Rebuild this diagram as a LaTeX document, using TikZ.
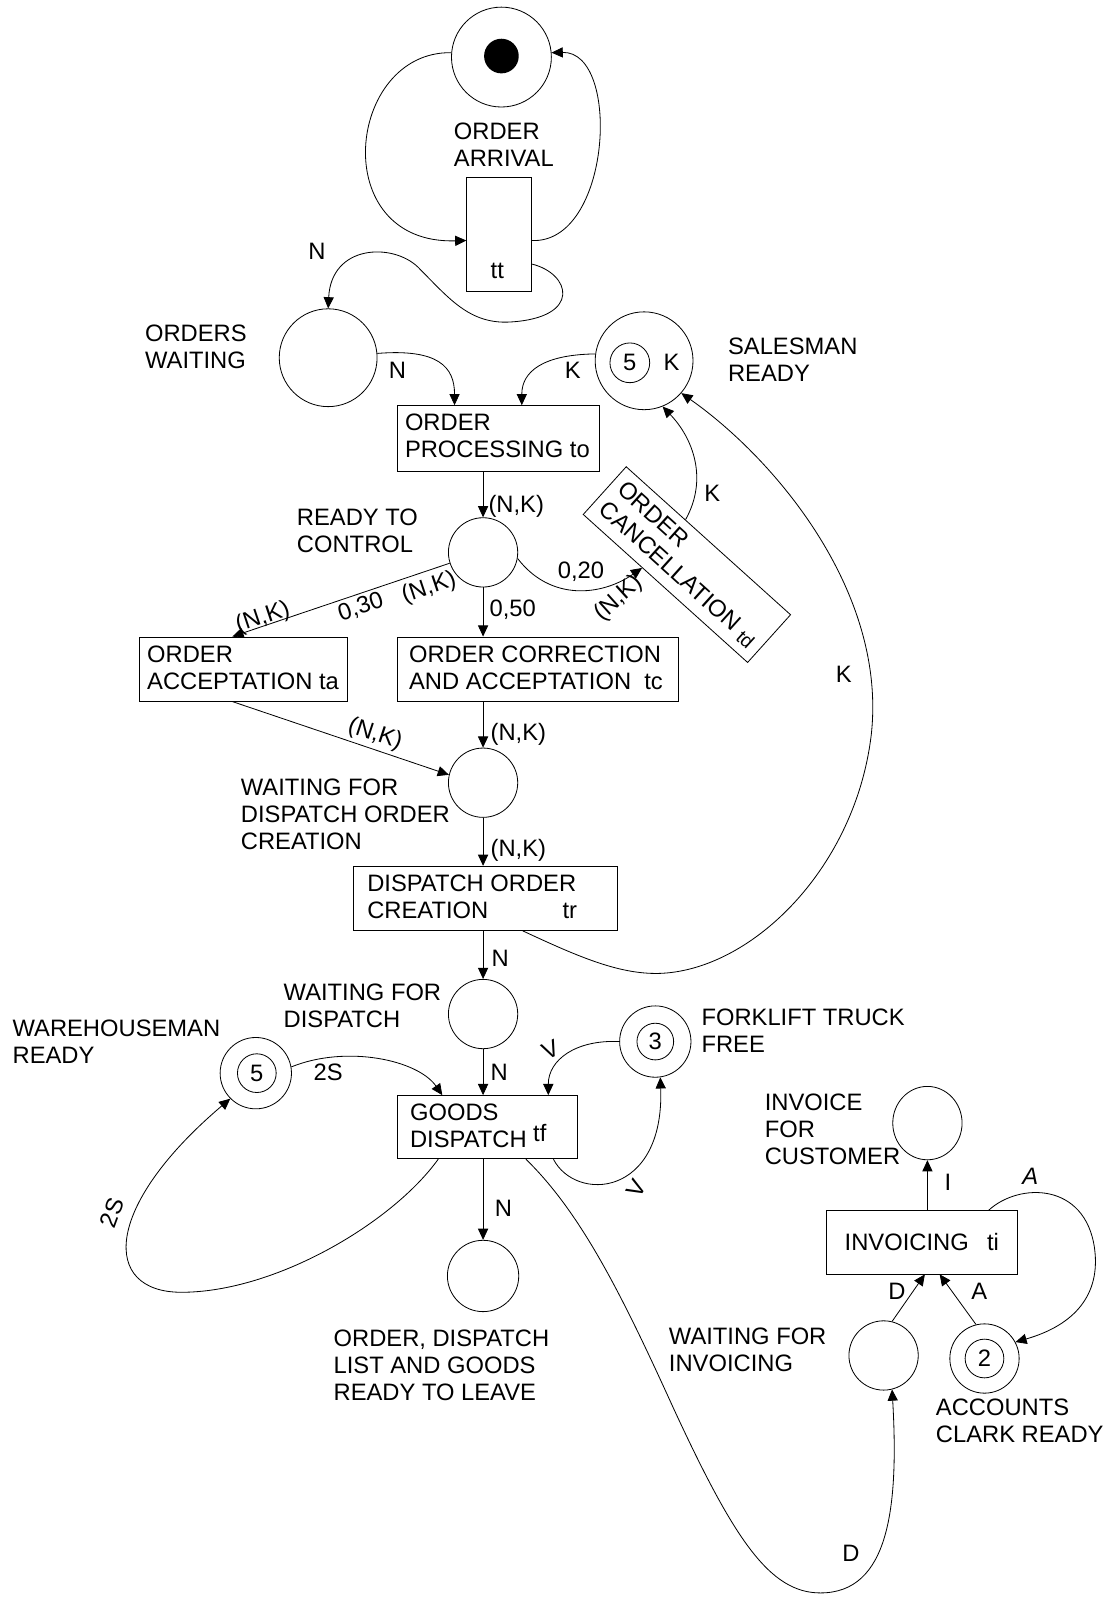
\documentclass[tikz,border=0pt]{standalone}
\usepackage{fontspec}
\setmainfont{Liberation Sans}
\usetikzlibrary{arrows.meta,calc,shapes.geometric}
\begin{document}
\begin{tikzpicture}[x=1pt,y=-1pt,line width=0.8pt,
  every node/.style={inner sep=0pt,font=\fontsize{23.3}{26.5}\selectfont},
  place/.style={draw,circle,minimum size=#1},
  oval/.style 2 args={draw,ellipse,minimum width=#1,minimum height=#2},
  trans/.style 2 args={draw,rectangle,minimum width=#1,minimum height=#2},
  txt/.style={anchor=north west,align=left},
  arr/.style={-{Triangle[length=11pt,width=10pt]}}]
\useasboundingbox (0,0) rectangle (1088,1568);

% ---------- order arrival ----------
\node[place=98] (arrival) at (492,56) {};
\node[circle,fill,minimum size=34] (token) at (492,55) {};
\node[txt] (arrivalL) at (445,120) {ORDER\\ARRIVAL};
\node[trans={63}{111}] (tt) at (489.5,230) {};
\node (ttL) at (488,266) {tt};
\draw[arr] (arrival.175) .. controls (340,50) and (320,240) .. ([yshift=-6pt]tt.west);
\draw[arr] ([yshift=-6pt]tt.east) .. controls (600,240) and (610,50) .. (arrival.5);

% ---------- orders waiting ----------
\node[place=96] (orders) at (322,351) {};
\node[txt] (ordersL) at (142,318) {ORDERS\\WAITING};
\draw[arr] ([yshift=-29pt]tt.east) .. controls (560,268) and (572,312) .. (500,316)
   .. controls (460,318) and (440,292) .. (410,262)
   .. controls (385,238) and (325,240) .. (orders.north);
\node (lN1) at (311,247) {N};

% ---------- order processing ----------
\node[trans={198}{65}] (proc) at (489,430.5) {};
\node[txt] (procL) at (397,406) {ORDER\\PROCESSING to};
\draw[arr] (orders.5) .. controls (430,342) and (446,360) .. ([xshift=-43pt]proc.north);
\node (lN2) at (390,363) {N};

% ---------- salesman ready ----------
\node[place=96] (sales) at (632,354) {};
\node[place=39] (salesIn) at (618,356) {5};
\node (salesK) at (659,356) {K};
\node[txt] (salesL) at (714,331) {SALESMAN\\READY};
\draw[arr] (sales.172) .. controls (532,348) and (512,365) .. ([xshift=23pt]proc.north);
\node (lK1) at (562,363) {K};

% ---------- ready to control ----------
\node[place=68] (ready) at (474,542) {};
\node[txt] (readyL) at (291,499) {READY TO\\CONTROL};
\draw[arr] (proc.south -| ready) -- (ready.north);
\node[anchor=west] (lNK1) at (479,497) {(N,K)};

% ---------- order acceptation ----------
\node[trans={204}{63}] (accept) at (239,656.5) {};
\node[txt] (acceptL) at (144,633) {ORDER\\ACCEPTATION ta};
\draw[arr] (ready.198) -- ([xshift=-11pt]accept.north);
\node[rotate=18.5] (lNK2) at (258,606) {(N,K)};
\node[rotate=18.5] (l030) at (354,596) {0,30};
\node[rotate=18.5] (lNK3) at (421,577) {(N,K)};

% ---------- order correction ----------
\node[trans={276}{63}] (correct) at (528,656.5) {};
\node[txt] (correctL) at (401,633) {ORDER CORRECTION\\AND ACCEPTATION\ \ tc};
\draw[arr] (ready.south) -- (correct.north -| ready);
\node[anchor=west] (l050) at (480,598) {0,50};

% ---------- order cancellation ----------
\node[trans={217}{63},rotate=-42,align=left] (cancel) at (674,554)
  {ORDER\\CANCELLATION \raisebox{-3pt}{\fontsize{19}{20}\selectfont td}};
\draw[arr] (ready.-10) .. controls (540,590) and (590,585) ..
  ($(cancel.south west)!0.36!(cancel.south east)$);
\node (l020) at (570,561) {0,20};
\node[rotate=42] (lNK4) at (607,587) {(N,K)};
\draw[arr] ($(cancel.north west)!0.36!(cancel.north east)$) .. controls (695,470) and (680,430) .. (sales.292);
\node (lK2) at (699,484) {K};

% ---------- waiting for dispatch order creation ----------
\node[place=68] (wait1) at (474,768) {};
\node[txt] (wait1L) at (236,764) {WAITING FOR\\DISPATCH ORDER\\CREATION};
\draw[arr] ([xshift=-11pt]accept.south) -- (wait1.167);
\node[rotate=-18.3] (lNK5) at (368,721) {(N,K)};
\draw[arr] (correct.south -| wait1) -- (wait1.north);
\node[anchor=west] (lNK6) at (481,721) {(N,K)};

% ---------- dispatch order creation ----------
\node[trans={259}{63}] (doc) at (476.5,881.5) {};
\node[txt] (docL) at (360,858) {DISPATCH ORDER\\CREATION\hspace{73pt}tr};
\draw[arr] (wait1.south) -- (doc.north -| wait1);
\node[anchor=west] (lNK7) at (481,834) {(N,K)};
\draw[arr] ([xshift=36.5pt]doc.south) .. controls (570,940) and (610,957) .. (650,955)
   .. controls (740,950) and (840,850) .. (855,720)
   .. controls (870,580) and (760,450) .. (sales.-41);
\node (lK3) at (828,662) {K};

% ---------- waiting for dispatch ----------
\node[place=68] (wait2) at (474,995) {};
\node[txt] (wait2L) at (278,965) {WAITING FOR\\DISPATCH};
\draw[arr] (doc.south -| wait2) -- (wait2.north);
\node[anchor=west] (lN3) at (482,940) {N};

% ---------- goods dispatch ----------
\node[trans={177}{62}] (goods) at (478.5,1106) {};
\node[txt] (goodsL) at (402,1083) {GOODS\\DISPATCH \raisebox{6pt}{tf}};
\draw[arr] (wait2.south) -- (goods.north -| wait2);
\node[anchor=west] (lN4) at (481,1052) {N};

% ---------- warehouseman ready ----------
\node[place=70] (wh) at (251,1053) {};
\node[place=38] (whIn) at (252,1053) {5};
\node[txt] (whL) at (12,1000) {WAREHOUSEMAN\\READY};
\draw[arr] (wh.10) .. controls (340,1025) and (410,1040) .. ([xshift=-44.5pt]goods.north);
\node (l2S1) at (322,1052) {2S};
\draw[arr] ([xshift=-48.5pt]goods.south) .. controls (385,1200) and (270,1268) .. (178,1268)
   .. controls (100,1268) and (100,1185) .. (wh.225);
\node[rotate=70] (l2S2) at (110,1190) {2S};

% ---------- forklift truck free ----------
\node[place=70] (fork) at (643,1022) {};
\node[place=36] (forkIn) at (643,1022) {3};
\node[txt] (forkL) at (688,990) {FORKLIFT TRUCK\\FREE};
\draw[arr] (fork.west) .. controls (565,1020) and (538,1040) .. ([xshift=59.5pt]goods.north);
\node[rotate=25] (lV1) at (540,1030) {V};
\draw[arr] ([xshift=64.5pt]goods.south) .. controls (565,1180) and (652,1175) .. (fork.278);
\node[rotate=60] (lV2) at (624,1166) {V};

% ---------- ready to leave ----------
\node[place=70] (leave) at (474,1252) {};
\node[txt] (leaveL) at (327,1305) {ORDER, DISPATCH\\LIST AND GOODS\\READY TO LEAVE};
\draw[arr] (goods.south -| leave) -- (leave.north);
\node (lN5) at (494,1186) {N};

% ---------- invoicing ----------
\node[place=68] (winv) at (867,1330) {};
\node[txt] (winvL) at (656,1303) {WAITING FOR\\INVOICING};
\draw[arr] ([xshift=37.5pt]goods.south) .. controls (570,1190) and (610,1270) .. (660,1380)
   .. controls (720,1510) and (755,1563) .. (805,1563)
   .. controls (872,1563) and (882,1480) .. (winv.284);
\node (lD1) at (835,1524) {D};

\node[place=68] (clerk) at (966,1333) {};
\node[place=38] (clerkIn) at (966,1333) {2};
\node[txt] (clerkL) at (918,1372) {ACCOUNTS\\CLARK READY};

\node[trans={187}{62}] (invoicing) at (904.5,1219) {INVOICING\hspace{18pt}ti};
\draw[arr] (winv.76) -- ([xshift=3pt]invoicing.south);
\node (lD2) at (880,1267) {D};
\draw[arr] (clerk.104) -- ([xshift=17.5pt]invoicing.south);
\node (lA1) at (961,1267) {A};

\node[oval={68}{72}] (invoice) at (910,1102) {};
\node[txt] (invoiceL) at (750,1073) {INVOICE\\FOR\\CUSTOMER};
\draw[arr] (invoicing.north -| invoice) -- (invoice.south);
\node (lI) at (930,1160) {I};

\draw[arr] ([xshift=65.5pt]invoicing.north) .. controls (1000,1160) and (1065,1160) .. (1074,1225)
   .. controls (1080,1270) and (1055,1300) .. (clerk.28);
\node[font=\fontsize{23.3}{26.5}\selectfont\itshape] (lA2) at (1011,1154) {A};
\end{tikzpicture}
\end{document}
